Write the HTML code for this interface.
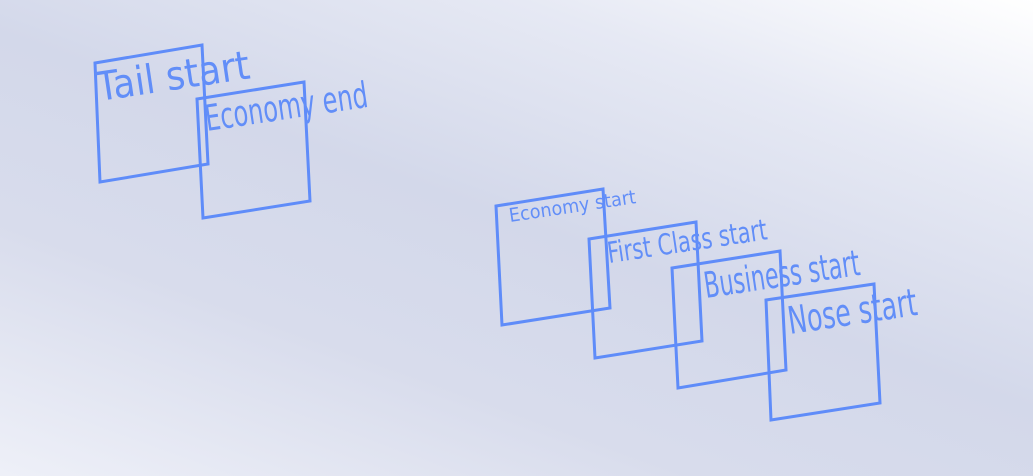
<!DOCTYPE html>
<html><head><style>
html,body{margin:0;padding:0;}
body{width:1033px;height:476px;overflow:hidden;
background:linear-gradient(200deg,#ffffff 0%,#e6e9f4 22%,#d3d8ea 48%,#d8dcec 70%,#eef0f8 100%);}
svg{position:absolute;left:0;top:0;}
text{font-family:"DejaVu Sans","Liberation Sans",sans-serif;fill:#628ef8;}
polygon{fill:none;stroke:#5f8cf9;stroke-width:3;}
</style></head><body>
<svg width="1033" height="476" viewBox="0 0 1033 476">
<polygon points="95,63 202,45 208,164 100,182"/>
<polygon points="197,99 304,82 310,201 203,218"/>
<polygon points="496,206 603,189 610,308 502,325"/>
<polygon points="589,239 696,222 702,341 595,358"/>
<polygon points="672,268 780,251 786,370 678,388"/>
<polygon points="766,300 874,284 880,403 771,420"/>
<text transform="translate(99,101) rotate(-8.5)" font-size="40" textLength="154" lengthAdjust="spacingAndGlyphs">Tail start</text>
<text transform="translate(207,131) rotate(-8.5)" font-size="36" textLength="164" lengthAdjust="spacingAndGlyphs">Economy end</text>
<text transform="translate(510,222) rotate(-8.5)" font-size="19" textLength="128" lengthAdjust="spacingAndGlyphs">Economy start</text>
<text transform="translate(609,263) rotate(-8.5)" font-size="29" textLength="161" lengthAdjust="spacingAndGlyphs">First Class start</text>
<text transform="translate(706,298) rotate(-8.5)" font-size="36" textLength="157" lengthAdjust="spacingAndGlyphs">Business start</text>
<text transform="translate(790,334) rotate(-8.5)" font-size="38" textLength="130" lengthAdjust="spacingAndGlyphs">Nose start</text>
</svg>
</body></html>
